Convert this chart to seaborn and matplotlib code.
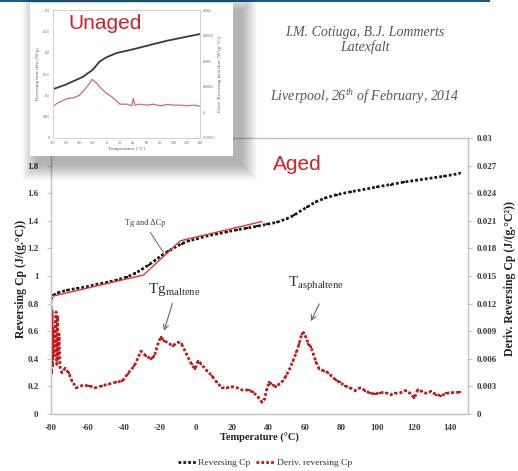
import matplotlib
matplotlib.use("Agg")
import matplotlib.pyplot as plt
import seaborn as sns
from matplotlib.patches import Rectangle
from matplotlib.lines import Line2D

# ---- aged binder: reversing heat capacity ----
temp_cp = [-80.0, -78.7, -76.0, -71.3, -65.8, -60.3, -54.8, -49.2, -43.7, -38.2,
           -33.6, -29.9, -26.2, -22.5, -18.9, -15.2, -11.5, -7.8, -4.1, 0.5,
           6.0, 11.5, 17.0, 22.6, 28.1, 33.6, 39.2, 44.7, 50.0, 54.0,
           57.5, 61.3, 65.9, 71.4, 77.8, 85.2, 92.5, 99.9, 107.3, 114.6,
           122.0, 129.4, 136.7, 145.4]
rev_cp = [0.83, 0.86, 0.88, 0.896, 0.91, 0.922, 0.94, 0.954, 0.971, 0.993,
          1.019, 1.048, 1.08, 1.114, 1.15, 1.18, 1.21, 1.235, 1.255, 1.27,
          1.29, 1.305, 1.32, 1.335, 1.347, 1.36, 1.375, 1.39, 1.415, 1.44,
          1.47, 1.50, 1.537, 1.566, 1.59, 1.61, 1.627, 1.646, 1.663, 1.68,
          1.695, 1.709, 1.723, 1.743]

# ---- aged binder: derivative of reversing Cp ----
temp_deriv = [-80.0, -79.7, -79.4, -79.1, -78.8, -78.5, -77.2, -76.8, -76.4, -76.0,
              -75.6, -75.0, -74.0, -72.2, -70.3, -68.5, -66.0, -63.0, -59.2, -55.5,
              -51.7, -48.0, -44.3, -40.6, -37.8, -34.0, -30.4, -27.6, -24.8, -23.0,
              -21.0, -19.6, -17.4, -14.6, -12.7, -9.9, -8.0, -5.3, -2.5, -0.6,
              1.2, 3.0, 5.9, 8.7, 11.4, 14.2, 17.0, 19.8, 22.6, 25.4,
              29.0, 31.6, 34.4, 36.3, 37.8, 39.0, 40.4, 42.2, 44.1, 46.0,
              47.9, 49.7, 51.6, 53.5, 55.4, 56.8, 58.3, 59.3, 60.6, 62.0,
              63.4, 64.7, 66.2, 68.0, 70.3, 72.7, 74.6, 77.0, 79.3, 82.0,
              84.9, 87.7, 90.5, 93.3, 96.0, 98.9, 101.7, 104.5, 107.3, 110.0,
              113.0, 115.7, 118.0, 120.4, 122.2, 124.5, 126.9, 129.7, 132.5, 135.3,
              138.0, 140.9, 145.5]
deriv_cp = [0.01230, 0.00450, 0.01125, 0.00525, 0.00930, 0.00630, 0.01110, 0.00540, 0.01050, 0.00600,
            0.00870, 0.00510, 0.00450, 0.00495, 0.00450, 0.00360, 0.00285, 0.00308, 0.00308, 0.00285,
            0.00308, 0.00326, 0.00345, 0.00360, 0.00435, 0.00525, 0.00683, 0.00630, 0.00600, 0.00630,
            0.00761, 0.00834, 0.00795, 0.00761, 0.00743, 0.00780, 0.00761, 0.00653, 0.00540, 0.00489,
            0.00579, 0.00540, 0.00471, 0.00417, 0.00345, 0.00285, 0.00285, 0.00297, 0.00285, 0.00261,
            0.00261, 0.00236, 0.00180, 0.00128, 0.00164, 0.00270, 0.00345, 0.00315, 0.00297, 0.00326,
            0.00360, 0.00417, 0.00489, 0.00579, 0.00671, 0.00761, 0.00870, 0.00885, 0.00834, 0.00761,
            0.00725, 0.00653, 0.00561, 0.00489, 0.00471, 0.00450, 0.00417, 0.00369, 0.00345, 0.00308,
            0.00285, 0.00255, 0.00285, 0.00255, 0.00225, 0.00218, 0.00233, 0.00233, 0.00210, 0.00225,
            0.00233, 0.00255, 0.00225, 0.00174, 0.00261, 0.00246, 0.00225, 0.00246, 0.00210, 0.00200,
            0.00225, 0.00233, 0.00236]

# tangent construction for Tg and delta Cp
tangent_temp = [-78.7, -29.0, -8.7, 36.4]
tangent_cp = [0.855, 1.007, 1.255, 1.395]

# ---- unaged binder (small panel) ----
unaged_temp = [-80, -61, -35.6, -20.5, -10.4, -0.3, 14.8, 40, 65.3, 90.6, 115.8, 141]
unaged_flow = [0.1145, 0.125, 0.143, 0.160, 0.179, 0.189, 0.199, 0.208, 0.218, 0.228, 0.236, 0.244]
unaged_dtemp = [-80, -73.4, -65.9, -58.3, -48.2, -40.6, -33, -26.5, -21.4, -15.4,
                -7.8, -0.2, 7.4, 15, 20, 30.1, 37.7, 40.2, 42.7, 50.3,
                60.4, 70.5, 80.6, 90.7, 100.8, 110.9, 121, 131.1, 141.2]
unaged_deriv = [0.000116, 0.000181, 0.000226, 0.000271, 0.00029, 0.000335, 0.000439, 0.000548, 0.000645, 0.00058,
                0.000465, 0.000374, 0.00031, 0.000226, 0.000161, 0.000161, 0.000129, 0.000271, 0.000142, 0.000161,
                0.000142, 0.000161, 0.000129, 0.000155, 0.000142, 0.000142, 0.000129, 0.000142, 0.000116]

x_ticks = list(range(-80, 141, 20))
cp_ticks = [0, 0.2, 0.4, 0.6, 0.8, 1.0, 1.2, 1.4, 1.6, 1.8, 2.0]
deriv_ticks = [0, 0.003, 0.006, 0.009, 0.012, 0.015, 0.018, 0.021, 0.024, 0.027, 0.03]
inset_flow_ticks = [0, 0.05, 0.10, 0.15, 0.20, 0.25, 0.30]
inset_deriv_ticks = [-0.0005, 0, 0.0005, 0.001, 0.0015, 0.002]

sns.set_theme(style="white")
plt.rcParams["font.family"] = ["Liberation Serif", "DejaVu Sans"]
plt.rcParams["mathtext.fontset"] = "custom"
plt.rcParams["mathtext.rm"] = "Liberation Serif"
plt.rcParams["mathtext.it"] = "Liberation Serif:italic"
plt.rcParams["mathtext.bf"] = "Liberation Serif:bold"

W, H = 518, 471
fig = plt.figure(figsize=(W / 100, H / 100), dpi=100)
fig.patch.set_facecolor("white")


def fx(px):
    return px / W


def fy(py):
    return 1 - py / H


BLACK = "#1a1a1a"
RED = "#c8161d"
SPINE = "#c4c4c4"
TICKC = "#3a3a3a"
DOTS = (0, (1, 0.75))

# ---- main chart ----
ax = fig.add_axes([fx(51), fy(414), fx(468) - fx(51), fy(138) - fy(414)], zorder=0)
ax2 = ax.twinx()
ax2.set_zorder(0.5)
ax2.patch.set_visible(False)

sns.lineplot(x=temp_cp, y=rev_cp, ax=ax, color=BLACK, linestyle=DOTS,
             linewidth=2.0, marker="s", markersize=2.0, markeredgewidth=0,
             estimator=None, sort=False, legend=False)
sns.lineplot(x=tangent_temp, y=tangent_cp, ax=ax, color="#e0353a", linewidth=1.0,
             estimator=None, sort=False, legend=False)
sns.lineplot(x=temp_deriv, y=deriv_cp, ax=ax2, color=RED, linestyle=DOTS,
             linewidth=2.0, marker="s", markersize=2.0, markeredgewidth=0,
             estimator=None, sort=False, legend=False)

ax.set_xlim(-80, 150)
ax.set_ylim(0, 2.0)
ax2.set_ylim(0, 0.03)
ax.set_xticks(x_ticks)
ax.set_xticklabels([f"{t:g}" for t in x_ticks])
ax.set_yticks(cp_ticks)
ax.set_yticklabels([f"{t:g}" for t in cp_ticks])
ax2.set_yticks(deriv_ticks)
ax2.set_yticklabels([f"{t:g}" for t in deriv_ticks])

for a in (ax, ax2):
    for s in a.spines.values():
        s.set_color(SPINE)
        s.set_linewidth(0.9)
ax.tick_params(axis="x", length=0, pad=7, labelsize=6.5, colors=TICKC)
ax.tick_params(axis="y", length=3, width=0.7, pad=6, labelsize=6.5, colors=TICKC, color=SPINE, left=True)
ax2.tick_params(axis="y", length=3, width=0.7, pad=3, labelsize=6.5, colors=TICKC, color=SPINE, right=True)
for lab in ax.get_xticklabels() + ax.get_yticklabels() + ax2.get_yticklabels():
    lab.set_fontweight("bold")

ax.set_xlabel("Temperature (°C)", fontsize=7.5, fontweight="bold", color="#222")
ax.xaxis.set_label_coords(0.5, -0.068)
ax.set_ylabel("Reversing Cp (J/(g.°C))", fontsize=8.5, fontweight="bold", color="#222")
ax.yaxis.set_label_coords(-0.058, 0.49)
ax2.set_ylabel("Deriv. Reversing Cp (J/(g.°C²))", fontsize=8.5, fontweight="bold", color="#222")
ax2.yaxis.set_label_coords(1.086, 0.49)

# annotations
ax.text(-39.1, 1.368, "Tg and ΔCp", fontsize=6, color="#444", va="baseline", ha="left")
ax.plot([-25.3, -18.1], [1.317, 1.172], color="#777", lw=0.8)
ax.text(-26.4, 0.874, r"Tg$_{\mathrm{maltene}}$", fontsize=11, color="#333", va="baseline", ha="left")
ax.annotate("", xy=(-18.1, 0.584), xytext=(-12.6, 0.82),
            arrowprops=dict(arrowstyle="->", color="#666", lw=0.8, mutation_scale=9))
ax.text(50.9, 0.918, r"T$_{\mathrm{asphaltene}}$", fontsize=11, color="#333", va="baseline", ha="left")
ax.annotate("", xy=(62.7, 0.655), xytext=(68.6, 0.816),
            arrowprops=dict(arrowstyle="->", color="#666", lw=0.8, mutation_scale=9))

# legend under the chart
handles = [
    Line2D([], [], color=BLACK, linestyle=DOTS, linewidth=2.0),
    Line2D([], [], color=RED, linestyle=DOTS, linewidth=2.0),
]
leg = fig.legend(handles, ["Reversing Cp", "Deriv. reversing Cp"], loc="center",
                 bbox_to_anchor=(fx(265), fy(463)), ncol=2, frameon=False,
                 fontsize=6.8, handlelength=2.0, handletextpad=0.15, columnspacing=0.6)
for t in leg.get_texts():
    t.set_color("#333")

fig.text(fx(273), fy(170), "Aged", fontsize=15, color="#d0202a",
         family="Liberation Sans", va="baseline", ha="left")

# header
fig.add_artist(Rectangle((0, fy(2)), fx(490), fy(0) - fy(2), transform=fig.transFigure,
                         color="#1f5a8c", lw=0, zorder=1))
fig.text(fx(365), fy(36), "I.M. Cotiuga, B.J. Lommerts", fontsize=10, style="italic",
         color="#555", ha="center", va="baseline")
fig.text(fx(365), fy(51), "Latexfalt", fontsize=10, style="italic",
         color="#555", ha="center", va="baseline")
fig.text(fx(365), fy(101), r"Liverpool, 26$^{\mathit{th}}$ of February, 2014", fontsize=10,
         style="italic", color="#555", ha="center", va="baseline")

# ---- small panel: unaged binder, on a card with a soft drop shadow ----
bx0, by0, bx1, by1 = 30, 3, 233, 156
for i in range(16):
    spread = 16 - i
    fig.add_artist(Rectangle((fx(bx0 + 8 - spread), fy(by1 + 8 + spread)),
                             fx(bx1 - bx0 + 2 * spread), fy(by0 + 8 - spread) - fy(by1 + 8 + spread),
                             transform=fig.transFigure, color="black", alpha=0.018,
                             lw=0, zorder=4))
fig.add_artist(Rectangle((fx(bx0), fy(by1)), fx(bx1 - bx0), fy(by0) - fy(by1),
                         transform=fig.transFigure, color="white", lw=0, zorder=5))

iax = fig.add_axes([fx(53), fy(138), fx(200) - fx(53), fy(10) - fy(138)], zorder=6)
iax2 = iax.twinx()
iax2.set_zorder(6.5)
iax2.patch.set_visible(False)
sns.lineplot(x=unaged_temp, y=unaged_flow, ax=iax, color="#3a3a3a", linewidth=1.3,
             estimator=None, sort=False, legend=False)
sns.lineplot(x=unaged_dtemp, y=unaged_deriv, ax=iax2, color="#cf6a6a", linewidth=0.9,
             estimator=None, sort=False, legend=False)
iax.set_xlim(-80, 140)
iax.set_ylim(0, 0.3)
iax2.set_ylim(-0.0005, 0.002)
iax.set_xticks(x_ticks)
iax.set_xticklabels([f"{t:g}" for t in x_ticks])
iax.set_yticks(inset_flow_ticks)
iax.set_yticklabels([f"{t:g}" for t in inset_flow_ticks])
iax2.set_yticks(inset_deriv_ticks)
iax2.set_yticklabels([f"{t:g}" for t in inset_deriv_ticks])
for a in (iax, iax2):
    for s in a.spines.values():
        s.set_color("#d0d0d0")
        s.set_linewidth(0.6)
    a.tick_params(length=0, labelsize=3, colors="#666", pad=2)
iax.set_xlabel("Temperature (°C)", fontsize=3.8, color="#555", labelpad=1.5)
iax.set_ylabel("Reversing heat flow (W/g)", fontsize=3.5, color="#555", labelpad=2)
iax2.set_ylabel("Deriv. Reversing heat flow (W/(g·°C))", fontsize=3.5, color="#555", labelpad=2)

fig.text(fx(68), fy(29), "Unaged", fontsize=15, color="#d0202a",
         family="Liberation Sans", va="baseline", ha="left", zorder=10)

fig.savefig("out.png", dpi=100)
